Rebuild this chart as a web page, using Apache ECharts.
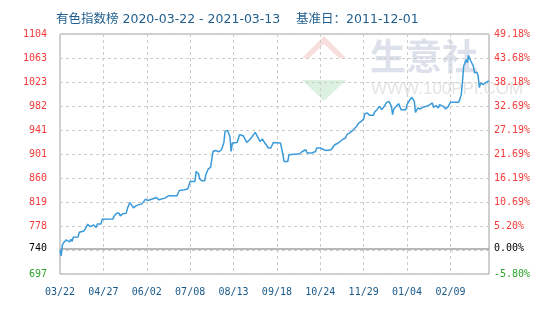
<!DOCTYPE html>
<html><head><meta charset="utf-8">
<script src="https://cdn.jsdelivr.net/npm/echarts@6/dist/echarts.min.js"></script>
<style>html,body{margin:0;padding:0;background:#fff}#c{width:548px;height:313px}</style>
</head><body><div id="c"></div>
<script>
const titleText = '有色指数榜 2020-03-22 - 2021-03-13    基准日：2011-12-01';
const startDate = '2020-03-22';
const endDate = '2021-03-13';
const baseValue = 740;
const minPct = -5.80;
const maxPct = 49.18;
const xTickDays = 36;

const dates = [
'2020-03-22','2020-03-23','2020-03-24','2020-03-25','2020-03-27','2020-03-28','2020-03-30','2020-03-31','2020-04-01','2020-04-02',
'2020-04-06','2020-04-07','2020-04-08','2020-04-11','2020-04-13','2020-04-14','2020-04-16','2020-04-17','2020-04-19','2020-04-21',
'2020-04-22','2020-04-25','2020-04-26','2020-05-05','2020-05-06','2020-05-08','2020-05-10','2020-05-11','2020-05-13','2020-05-16',
'2020-05-17','2020-05-19','2020-05-20','2020-05-22','2020-05-24','2020-05-26','2020-05-29','2020-05-30','2020-06-01','2020-06-03',
'2020-06-10','2020-06-12','2020-06-17','2020-06-20','2020-06-27','2020-06-29','2020-07-03','2020-07-06','2020-07-08','2020-07-12',
'2020-07-13','2020-07-15','2020-07-16','2020-07-18','2020-07-20','2020-07-21','2020-07-23','2020-07-25','2020-07-26','2020-07-27',
'2020-07-29','2020-07-30','2020-08-01','2020-08-03','2020-08-05','2020-08-06','2020-08-08','2020-08-09','2020-08-10','2020-08-11',
'2020-08-12','2020-08-16','2020-08-18','2020-08-21','2020-08-24','2020-08-27','2020-08-31','2020-09-01','2020-09-04','2020-09-06',
'2020-09-08','2020-09-11','2020-09-13','2020-09-15','2020-09-21','2020-09-23','2020-09-24','2020-09-27','2020-09-28','2020-09-29',
'2020-10-07','2020-10-09','2020-10-12','2020-10-13','2020-10-17','2020-10-20','2020-10-21','2020-10-24','2020-10-27','2020-10-29',
'2020-11-02','2020-11-03','2020-11-05','2020-11-08','2020-11-09','2020-11-12','2020-11-14','2020-11-15','2020-11-17','2020-11-19',
'2020-11-21','2020-11-23','2020-11-25','2020-11-27','2020-11-29','2020-11-30','2020-12-02','2020-12-04','2020-12-07','2020-12-08',
'2020-12-10','2020-12-12','2020-12-14','2020-12-16','2020-12-18','2020-12-20','2020-12-22','2020-12-23','2020-12-24','2020-12-26',
'2020-12-28','2020-12-30','2021-01-03','2021-01-04','2021-01-06','2021-01-08','2021-01-10','2021-01-11','2021-01-13','2021-01-15',
'2021-01-18','2021-01-20','2021-01-23','2021-01-25','2021-01-26','2021-01-28','2021-01-30','2021-01-31','2021-02-03','2021-02-05',
'2021-02-07','2021-02-09','2021-02-16','2021-02-18','2021-02-19','2021-02-20','2021-02-22','2021-02-23','2021-02-24','2021-02-26',
'2021-02-28','2021-03-01','2021-03-03','2021-03-04','2021-03-05','2021-03-06','2021-03-08','2021-03-10','2021-03-12','2021-03-13'
];
const values = [
737.8,727.6,746.3,750.2,754.8,754.8,751.4,756.0,752.2,759.4,
759.9,767.9,768.9,770.1,777.4,781.5,777.4,780.3,780.3,775.7,
782.0,782.0,790.0,790.5,795.6,800.2,800.2,795.6,799.0,800.2,
808.7,818.2,817.2,809.2,812.6,814.3,816.0,818.2,824.0,821.6,
826.7,822.8,825.7,829.6,829.6,838.6,839.8,841.0,853.9,853.9,
870.9,867.0,858.0,855.0,855.0,865.2,875.0,878.3,891.9,904.8,
906.5,904.3,904.3,907.7,920.1,938.8,940.5,940.5,930.3,904.8,
919.1,920.1,933.2,931.5,920.1,925.9,937.1,933.2,921.8,925.9,
919.1,910.6,910.6,920.1,919.1,899.2,887.8,887.8,899.2,900.9,
900.9,904.8,907.7,902.1,902.1,904.8,910.6,910.6,907.7,906.5,
907.7,910.6,916.2,919.1,921.8,925.9,927.6,933.2,936.1,938.8,
942.9,947.3,953.1,955.8,959.9,968.9,970.1,966.0,966.0,971.1,
975.7,981.3,975.7,981.3,988.1,989.8,981.3,967.2,976.9,981.3,
985.9,975.7,975.7,984.2,991.5,996.6,989.8,971.1,978.6,976.9,
980.3,981.3,984.2,987.1,979.6,982.5,978.6,984.2,981.3,976.9,
980.3,988.1,988.1,1001.2,1023.8,1049.3,1060.7,1055.1,1067.5,1057.8,
1049.3,1038.1,1039.1,1032.3,1013.1,1021.1,1018.2,1021.1,1023.8,1023.8
];

const DAY = 86400000;
const t0 = Date.parse(startDate + 'T00:00:00Z');
const xMax = (Date.parse(endDate + 'T00:00:00Z') - t0) / DAY;
const seriesData = dates.map((d, i) => [(Date.parse(d + 'T00:00:00Z') - t0) / DAY, values[i]]);

const yMin = baseValue * (1 + minPct / 100);
const yMax = baseValue * (1 + maxPct / 100);
const step = (yMax - yMin) / 10;
const tickVals = [];
for (let k = 0; k <= 10; k++) tickVals.push(yMin + k * step);
const labelVals = tickVals.map((v, k) => k === 1 ? baseValue : v);

function colorFor(v) {
  if (Math.abs(v - baseValue) < 0.01) return '#000000';
  return v > baseValue ? '#f33b3b' : '#2aa52a';
}
const mono = 'DejaVu Sans Mono';

const chart = echarts.init(document.getElementById('c'), null, {renderer: 'canvas'});
chart.setOption({
  animation: false,
  backgroundColor: '#fff',
  title: {
    text: titleText, left: 56, top: 13, padding: 0,
    textStyle: {fontSize: 12.5, fontWeight: 'normal', color: '#1f5e8e', fontFamily: '"DejaVu Sans", "Noto Sans CJK SC"'}
  },
  graphic: [
    {type: 'text', left: 370, top: 38, z: 0, silent: true,
     style: {text: '生意社', fill: '#dce1eb', font: 'bold 36px "Noto Sans CJK SC"'}},
    {type: 'text', left: 371, top: 81, z: 0, silent: true,
     style: {text: 'WWW.100PPI.COM', fill: '#e4e4e4', font: '17px "Liberation Sans"'}},
    {type: 'polygon', z: 0, silent: true,
     shape: {points: [[302,80],[346,80],[324,101]]}, style: {fill: '#dcf1df'}},
    {type: 'polygon', z: 0, silent: true,
     shape: {points: [[324,36],[346,58],[339,58],[324,44],[309,58],[302,58]]}, style: {fill: '#f9dede'}}
  ],
  grid: {left: 60, right: 59, top: 34, bottom: 39, show: true, borderColor: '#a0a0a0', borderWidth: 1, backgroundColor: 'transparent'},
  xAxis: {
    type: 'value', min: 0, max: xMax, interval: xTickDays,
    axisLine: {show: false}, axisTick: {show: false},
    splitLine: {show: true, lineStyle: {color: '#cccccc', type: [3, 3], width: 1}},
    axisLabel: {
      color: '#1a5a8a', fontFamily: mono, fontSize: 10, margin: 13, showMaxLabel: false,
      formatter: v => {
        const d = new Date(t0 + v * DAY);
        const mm = String(d.getUTCMonth() + 1).padStart(2, '0');
        const dd = String(d.getUTCDate()).padStart(2, '0');
        return mm + '/' + dd;
      }
    }
  },
  yAxis: [
    {
      type: 'value', min: yMin, max: yMax, position: 'left',
      axisLine: {show: false}, axisTick: {show: false, customValues: tickVals},
      splitLine: {show: true, lineStyle: {color: '#cccccc', type: [3, 3], width: 1}},
      axisLabel: {
        customValues: labelVals, fontFamily: mono, fontSize: 10, margin: 13,
        formatter: v => String(Math.round(v)),
        color: v => colorFor(v)
      }
    },
    {
      type: 'value', min: yMin, max: yMax, position: 'right',
      axisLine: {show: false}, axisTick: {show: false, customValues: tickVals},
      splitLine: {show: false},
      axisLabel: {
        customValues: labelVals, fontFamily: mono, fontSize: 10, margin: 5,
        formatter: v => ((v / baseValue - 1) * 100).toFixed(2) + '%',
        color: v => colorFor(v)
      }
    }
  ],
  series: [{
    type: 'line', data: seriesData, yAxisIndex: 0, showSymbol: false, z: 5,
    lineStyle: {color: '#3b9ad9', width: 1.5},
    markLine: {
      silent: true, symbol: 'none', label: {show: false},
      lineStyle: {color: '#a0a0a0', type: 'solid', width: 1.5},
      data: [{yAxis: baseValue}]
    }
  }]
});
</script></body></html>
